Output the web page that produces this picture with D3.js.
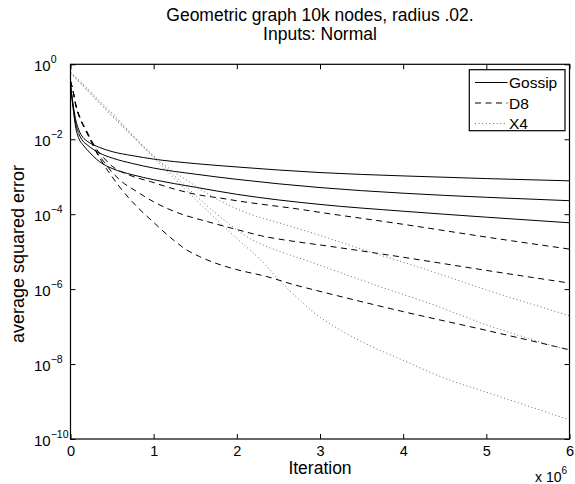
<!DOCTYPE html>
<html>
<head>
<meta charset="utf-8">
<script src="https://cdn.jsdelivr.net/npm/d3@7/dist/d3.min.js"></script>
<style>
  html, body { margin: 0; padding: 0; background: #fff; }
  svg { display: block; font-family: "Liberation Sans", Arial, Helvetica, sans-serif; }
</style>
</head>
<body>
<svg id="chart" width="575" height="484"></svg>
<script>
// Average squared error versus iteration for three averaging schemes,
// each run three times (geometric graph, 10k nodes, radius .02, normal inputs).

const xTicks = [0, 1e6, 2e6, 3e6, 4e6, 5e6, 6e6];
const yTicks = [1e0, 1e-2, 1e-4, 1e-6, 1e-8, 1e-10];
const yTickExp = ["0", "\u22122", "\u22124", "\u22126", "\u22128", "\u221210"];

// Gossip runs
const gossipIter = [0, 0.03e6, 0.06e6, 0.1e6, 0.15e6, 0.2e6, 0.35e6, 0.5e6, 0.75e6, 1e6, 1.5e6, 2e6, 3e6, 4e6, 5e6, 6e6];
const gossip1 = [2.82e-1, 8.91e-2, 3.55e-2, 1.78e-2, 1.12e-2, 8.91e-3, 6.03e-3, 4.68e-3, 3.63e-3, 2.95e-3, 2.24e-3, 1.82e-3, 1.29e-3, 1.05e-3, 8.91e-4, 7.76e-4];
const gossip2 = [2.82e-1, 7.94e-2, 2.82e-2, 1.41e-2, 8.91e-3, 7.08e-3, 4.27e-3, 3.16e-3, 2.24e-3, 1.70e-3, 1.17e-3, 8.51e-4, 5.13e-4, 3.63e-4, 2.82e-4, 2.29e-4];
const gossip3 = [2.82e-1, 7.08e-2, 2.24e-2, 1.05e-2, 7.08e-3, 5.25e-3, 2.51e-3, 1.66e-3, 1.12e-3, 8.32e-4, 5.25e-4, 3.39e-4, 1.82e-4, 1.20e-4, 8.32e-5, 5.89e-5];

// D8 runs
const d8Iter1 = [0, 0.03e6, 0.06e6, 0.12e6, 0.18e6, 0.24e6, 0.3e6, 0.4e6, 0.5e6, 0.7e6, 0.96e6, 1.25e6, 1.55e6, 1.8e6, 2.05e6, 2.35e6, 2.7e6, 3e6, 4e6, 5e6, 6e6];
const d8Run1 = [3.55e-1, 2.00e-1, 9.33e-2, 3.55e-2, 1.91e-2, 1.05e-2, 6.03e-3, 3.16e-3, 1.91e-3, 1.12e-3, 7.41e-4, 4.68e-4, 3.24e-4, 2.69e-4, 2.19e-4, 1.78e-4, 1.41e-4, 1.12e-4, 5.37e-5, 2.45e-5, 1.17e-5];
const d8Iter2 = [0, 0.03e6, 0.06e6, 0.12e6, 0.18e6, 0.24e6, 0.3e6, 0.4e6, 0.5e6, 0.6e6, 0.8e6, 1e6, 1.35e6, 1.6e6, 2e6, 2.3e6, 2.7e6, 3e6, 4e6, 5e6, 6e6];
const d8Run2 = [3.55e-1, 1.91e-1, 8.51e-2, 3.31e-2, 1.78e-2, 9.55e-3, 5.25e-3, 2.51e-3, 1.32e-3, 7.94e-4, 3.98e-4, 2.14e-4, 9.77e-5, 6.76e-5, 3.89e-5, 2.63e-5, 1.86e-5, 1.51e-5, 7.08e-6, 3.16e-6, 1.45e-6];
const d8Iter3 = [0, 0.03e6, 0.06e6, 0.12e6, 0.18e6, 0.24e6, 0.3e6, 0.4e6, 0.5e6, 0.6e6, 0.8e6, 1e6, 1.2e6, 1.4e6, 1.55e6, 1.8e6, 2e6, 2.35e6, 2.7e6, 3e6, 4e6, 5e6, 6e6];
const d8Run3 = [3.55e-1, 2.00e-1, 8.91e-2, 3.39e-2, 1.78e-2, 9.55e-3, 5.01e-3, 2.09e-3, 1.00e-3, 5.01e-4, 1.58e-4, 6.03e-5, 2.40e-5, 1.10e-5, 7.41e-6, 4.47e-6, 3.31e-6, 2.19e-6, 1.29e-6, 8.71e-7, 2.51e-7, 7.94e-8, 2.40e-8];

// X4 runs
const x4Iter1 = [0, 0.5e6, 0.96e6, 1.2e6, 1.36e6, 1.76e6, 2.16e6, 2.52e6, 2.92e6, 3.32e6, 3.72e6, 4.24e6, 5e6, 6e6];
const x4Run1 = [6.31e-1, 5.01e-2, 4.27e-3, 1.58e-3, 9.12e-4, 2.51e-4, 1.00e-4, 5.75e-5, 3.09e-5, 1.58e-5, 8.13e-6, 3.55e-6, 9.55e-7, 1.95e-7];
const x4Iter2 = [0, 0.5e6, 1e6, 1.36e6, 1.76e6, 2.16e6, 2.52e6, 2.72e6, 2.92e6, 3.32e6, 3.72e6, 4.3e6, 5e6, 6e6];
const x4Run2 = [6.03e-1, 4.47e-2, 3.55e-3, 6.31e-4, 1.00e-4, 2.24e-5, 1.00e-5, 7.08e-6, 5.01e-6, 2.40e-6, 1.17e-6, 4.27e-7, 1.12e-7, 2.29e-8];
const x4Iter3 = [0, 0.5e6, 1e6, 1.5e6, 2e6, 2.3e6, 2.52e6, 2.76e6, 2.92e6, 3.16e6, 3.5e6, 4e6, 4.5e6, 5e6, 5.5e6, 6e6];
const x4Run3 = [5.75e-1, 4.17e-2, 3.16e-3, 2.51e-4, 2.24e-5, 5.62e-6, 1.62e-6, 5.01e-7, 2.40e-7, 1.05e-7, 3.98e-8, 1.26e-8, 4.17e-9, 1.78e-9, 7.59e-10, 3.24e-10];

const legendNames = ["Gossip", "D8", "X4"];

const styles = {
  Gossip: { stroke: "#000", dash: null, width: 1 },
  D8:     { stroke: "#000", dash: "6,4.5", width: 1 },
  X4:     { stroke: "#6e6e6e", dash: "1,2.6", width: 1 }
};

const series = [
  { name: "Gossip", iter: gossipIter, err: gossip1 },
  { name: "Gossip", iter: gossipIter, err: gossip2 },
  { name: "Gossip", iter: gossipIter, err: gossip3 },
  { name: "D8", iter: d8Iter1, err: d8Run1 },
  { name: "D8", iter: d8Iter2, err: d8Run2 },
  { name: "D8", iter: d8Iter3, err: d8Run3 },
  { name: "X4", iter: x4Iter1, err: x4Run1 },
  { name: "X4", iter: x4Iter2, err: x4Run2 },
  { name: "X4", iter: x4Iter3, err: x4Run3 }
];

const svg = d3.select("#chart");
const plot = { left: 70.5, right: 569.5, top: 64.3, bottom: 439 };

const x = d3.scaleLinear().domain([0, 6e6]).range([plot.left, plot.right]);
const y = d3.scaleLog().domain([1e-10, 1]).range([plot.bottom, plot.top]);

// clip so curves stay inside the box
svg.append("defs").append("clipPath").attr("id", "plotClip")
  .append("rect")
  .attr("x", plot.left).attr("y", plot.top)
  .attr("width", plot.right - plot.left).attr("height", plot.bottom - plot.top);

const line = d3.line()
  .x(d => x(d[0]))
  .y(d => y(d[1]))
  .curve(d3.curveMonotoneX);

const curves = svg.append("g").attr("clip-path", "url(#plotClip)");
series.forEach(s => {
  const st = styles[s.name];
  curves.append("path")
    .datum(s.iter.map((it, i) => [it, s.err[i]]))
    .attr("d", line)
    .attr("fill", "none")
    .attr("stroke", st.stroke)
    .attr("stroke-width", st.width)
    .attr("stroke-dasharray", st.dash);
});

// axes with inward ticks on all four sides
const tickLen = 5;
const fontTick = 14.5;

const gBottom = svg.append("g").attr("transform", `translate(0,${plot.bottom})`)
  .call(d3.axisBottom(x).tickValues(xTicks).tickSize(-tickLen).tickFormat(d => d / 1e6));
gBottom.select(".domain").remove();
gBottom.selectAll(".tick line").attr("stroke", "#000");
gBottom.selectAll(".tick text")
  .attr("y", 17).attr("dy", null)
  .attr("font-size", fontTick).attr("fill", "#000")
  .attr("font-family", "Liberation Sans, Arial, sans-serif");

const gTop = svg.append("g").attr("transform", `translate(0,${plot.top})`)
  .call(d3.axisTop(x).tickValues(xTicks).tickSize(-tickLen).tickFormat(""));
gTop.select(".domain").remove();
gTop.selectAll(".tick line").attr("stroke", "#000");

const gLeft = svg.append("g").attr("transform", `translate(${plot.left},0)`)
  .call(d3.axisLeft(y).tickValues(yTicks).tickSize(-tickLen).tickFormat(""));
gLeft.select(".domain").remove();
gLeft.selectAll(".tick line").attr("stroke", "#000");
gLeft.selectAll(".tick text").each(function (d, i) {
  const t = d3.select(this)
    .attr("x", 34 - plot.left).attr("y", 6).attr("dy", null)
    .attr("text-anchor", "start")
    .attr("font-size", 15).attr("fill", "#000")
    .attr("font-family", "Liberation Sans, Arial, sans-serif");
  t.text(null);
  t.append("tspan").text("10");
  t.append("tspan").attr("dy", -7.5).attr("font-size", 10.5).text(yTickExp[i]);
});

const gRight = svg.append("g").attr("transform", `translate(${plot.right},0)`)
  .call(d3.axisRight(y).tickValues(yTicks).tickSize(-tickLen).tickFormat(""));
gRight.select(".domain").remove();
gRight.selectAll(".tick line").attr("stroke", "#000");

// frame
svg.append("rect")
  .attr("x", plot.left).attr("y", plot.top)
  .attr("width", plot.right - plot.left).attr("height", plot.bottom - plot.top)
  .attr("fill", "none").attr("stroke", "#000").attr("stroke-width", 1.2);

// exponent multiplier for the x axis
const mult = svg.append("text")
  .attr("x", 535).attr("y", 481.5)
  .attr("font-size", 14).attr("fill", "#000");
mult.append("tspan").text("x 10");
mult.append("tspan").attr("dy", -8).attr("font-size", 10).text("6");

// titles and axis labels
svg.append("text").attr("x", 320).attr("y", 20.5).attr("text-anchor", "middle")
  .attr("font-size", 17.5).text("Geometric graph 10k nodes, radius .02.");
svg.append("text").attr("x", 320).attr("y", 40).attr("text-anchor", "middle")
  .attr("font-size", 17.5).text("Inputs: Normal");
svg.append("text").attr("x", 320).attr("y", 473.5).attr("text-anchor", "middle")
  .attr("font-size", 17.5).text("Iteration");
svg.append("text")
  .attr("transform", `translate(24,254) rotate(-90)`)
  .attr("text-anchor", "middle")
  .attr("font-size", 18).text("average squared error");

// legend
const leg = { x: 469.3, y: 69.7, w: 95.7, h: 61 };
const lg = svg.append("g");
lg.append("rect")
  .attr("x", leg.x).attr("y", leg.y).attr("width", leg.w).attr("height", leg.h)
  .attr("fill", "#fff").attr("stroke", "#000").attr("stroke-width", 1.2);
legendNames.forEach((name, i) => {
  const st = styles[name];
  const ry = 82.5 + i * 20.5;
  lg.append("line")
    .attr("x1", 475).attr("x2", 507.5).attr("y1", ry).attr("y2", ry)
    .attr("stroke", st.stroke).attr("stroke-width", st.width)
    .attr("stroke-dasharray", st.dash);
  lg.append("text")
    .attr("x", 509).attr("y", ry + 5.5)
    .attr("font-size", 15.5).attr("fill", "#000").text(name);
});
</script>
</body>
</html>
